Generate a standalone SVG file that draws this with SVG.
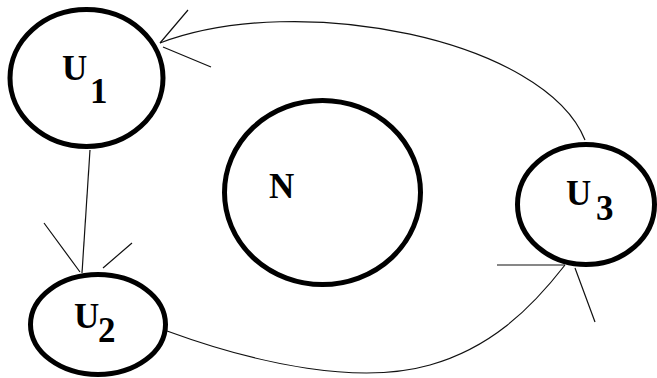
<svg xmlns="http://www.w3.org/2000/svg" width="657" height="378" viewBox="0 0 657 378">
<style>
.node{fill:#fff;stroke:#000;stroke-width:5}
.lbl{font-family:"Liberation Serif","Times New Roman",serif;font-weight:bold;font-size:35px;fill:#000}
.edge{fill:none;stroke:#111;stroke-width:1.2}
</style>
<rect width="657" height="378" fill="#fff"/>
<g id="N"><ellipse class="node" cx="322.5" cy="192.5" rx="98" ry="92"/><text class="lbl" x="269" y="198">N</text></g>
<g id="U1"><ellipse class="node" cx="86.5" cy="78" rx="76.5" ry="68.5"/><text class="lbl" x="62" y="80">U</text><text class="lbl" x="90" y="103">1</text></g>
<g id="U2"><ellipse class="node" cx="98" cy="324.5" rx="67.5" ry="50"/><text class="lbl" x="74" y="328">U</text><text class="lbl" x="98" y="342">2</text></g>
<g id="U3"><ellipse class="node" cx="586" cy="204.5" rx="68.5" ry="60"/><text class="lbl" x="566" y="205">U</text><text class="lbl" x="596" y="220">3</text></g>
<g id="connectors">
<path class="edge" d="M585,140 C545,40 300,-10 160,43"/>
<path class="edge" d="M160,43 L188,10 M163,47 L211,67"/>
<path class="edge" d="M90,150 L82,273"/>
<path class="edge" d="M44,223 L80,272 M132,243 L103,268"/>
<path class="edge" d="M167,331 C260,365 360,385 430,365 C490,348 530,310 565,265"/>
<path class="edge" d="M497,265 L565,265 M575,268 L595,322"/>
</g>
</svg>
